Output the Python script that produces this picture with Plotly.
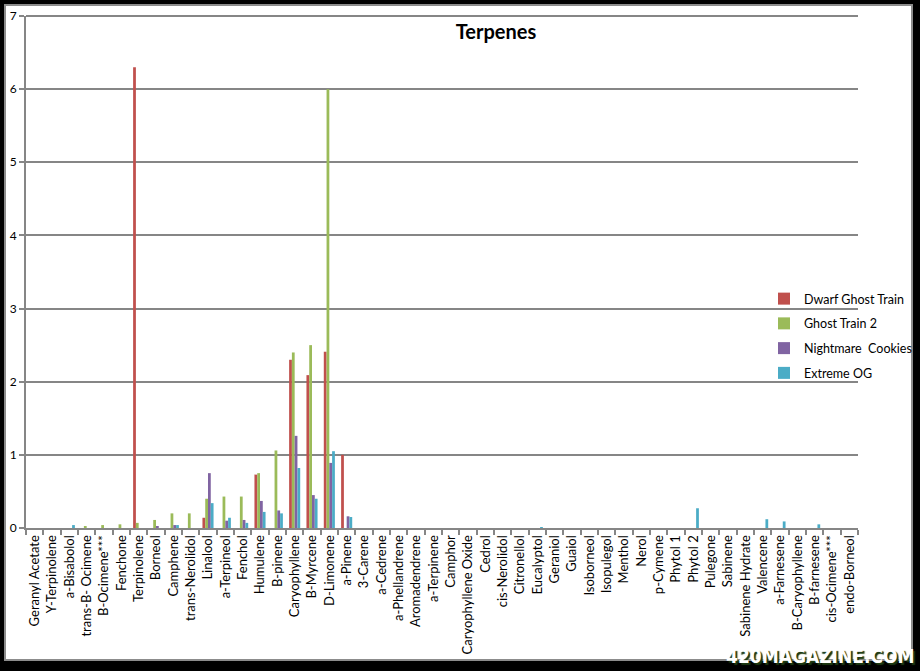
import plotly.graph_objects as go

categories = ["Geranyl Acetate", "Y-Terpinolene", "a-Bisabolol", "trans-B- Ocimene", "B-Ocimene***",
              "Fenchone", "Terpinolene", "Borneol", "Camphene", "trans-Nerolidol", "Linalool",
              "a-Terpineol", "Fenchol", "Humulene", "B-pinene", "Caryophyllene", "B-Myrcene",
              "D-Limonene", "a-Pinene", "3-Carene", "a-Cedrene", "a-Phellandrene", "Aromadendrene",
              "a-Terpinene", "Camphor", "Caryophyllene Oxide", "Cedrol", "cis-Nerolidol",
              "Citronellol", "Eucalyptol", "Geraniol", "Guaiol", "Isoborneol", "Isopulegol",
              "Menthol", "Nerol", "p-Cymene", "Phytol 1", "Phytol 2", "Pulegone", "Sabinene",
              "Sabinene Hydrate", "Valencene", "a-Farnesene", "B-Caryophyllene", "B-farnesene",
              "cis-Ocimene***", "endo-Borneol"]

dwarf_ghost_train = [0, 0, 0, 0, 0, 0, 6.3, 0, 0, 0, 0.14, 0, 0, 0.73, 0, 2.3, 2.09, 2.41, 1.0,
                     0, 0, 0, 0, 0, 0, 0, 0, 0, 0, 0, 0, 0, 0, 0, 0, 0, 0, 0, 0, 0, 0, 0, 0, 0, 0, 0, 0, 0]
ghost_train_2 = [0, 0, 0, 0.02, 0.04, 0.05, 0.07, 0.11, 0.2, 0.2, 0.4, 0.43, 0.43, 0.75, 1.06, 2.4, 2.5, 6.0, 0,
                 0, 0, 0, 0, 0, 0, 0, 0, 0, 0, 0, 0, 0, 0, 0, 0, 0, 0, 0, 0, 0, 0, 0, 0, 0, 0, 0, 0, 0]
nightmare_cookies = [0, 0, 0, 0, 0, 0, 0, 0.02, 0.04, 0, 0.75, 0.1, 0.11, 0.37, 0.24, 1.26, 0.45, 0.89, 0.16,
                     0, 0, 0, 0, 0, 0, 0, 0, 0, 0, 0, 0, 0, 0, 0, 0, 0, 0, 0, 0, 0, 0, 0, 0, 0, 0, 0, 0, 0]
extreme_og = [0, 0, 0.04, 0, 0, 0, 0, 0, 0.04, 0, 0.34, 0.14, 0.07, 0.22, 0.2, 0.82, 0.4, 1.05, 0.15,
              0, 0, 0, 0, 0, 0, 0, 0, 0, 0, 0.01, 0, 0, 0, 0, 0, 0, 0, 0, 0.27, 0, 0, 0, 0.12, 0.09, 0, 0.05, 0, 0]

series = [
    ("Dwarf Ghost Train", dwarf_ghost_train, "#C0504D"),
    ("Ghost Train 2", ghost_train_2, "#9BBB59"),
    ("Nightmare  Cookies", nightmare_cookies, "#8064A2"),
    ("Extreme OG", extreme_og, "#4BACC6"),
]

Y_MAX = 7

FONT = "Lato, 'Open Sans', sans-serif"

fig = go.Figure()
for name, vals, col in series:
    fig.add_trace(go.Bar(x=categories, y=vals, name=name, legendgroup=name,
                         marker=dict(color=col, line=dict(width=0))))

# plot area: x 26..858, y 16..528
L, R, T, B = 26, 858, 16, 528
W, H = R - L, B - T

def px(x):
    return (x - L) / W

def py(y):
    return (B - y) / H

fig.update_layout(
    width=920, height=671,
    margin=dict(l=L, r=920 - R, t=T, b=671 - B, autoexpand=False),
    paper_bgcolor="black",
    plot_bgcolor="rgba(0,0,0,0)",
    font=dict(family=FONT, size=12, color="black"),
    barmode="group", bargap=0.36, bargroupgap=0,
    title=dict(text="<b>Terpenes</b>", x=px(496), xref="paper", xanchor="center",
               y=1 - 32 / 671, yref="container", yanchor="middle",
               font=dict(family=FONT, size=20, color="black")),
    legend=dict(x=px(764), y=py(284), xanchor="left", yanchor="top",
                bgcolor="rgba(0,0,0,0)", font=dict(family=FONT, size=12.5, color="black"),
                tracegroupgap=5.5, itemclick=False, itemwidth=30),
    showlegend=True,
    xaxis=dict(type="category", showgrid=False, ticks="outside", tickson="boundaries",
               ticklen=5, tickwidth=1.5, tickcolor="#868686", tickangle=-90,
               showline=True, linecolor="#868686", linewidth=2,
               tickfont=dict(family=FONT, size=13, color="black")),
    yaxis=dict(range=[0, Y_MAX], dtick=1, tick0=0, showgrid=True, gridcolor="#868686", gridwidth=2,
               zeroline=False, showline=True, linecolor="#868686", linewidth=2,
               ticks="outside", ticklen=5, tickwidth=1.5, tickcolor="#868686",
               tickfont=dict(family=FONT, size=12, color="black")),
    shapes=[dict(type="rect", xref="paper", yref="paper", layer="below",
                 x0=px(5), x1=px(912), y0=py(660), y1=py(5),
                 fillcolor="white", line=dict(color="#8c8c8c", width=2)),
            # top gridline (value Y_MAX sits at the top edge of the plot area)
            dict(type="line", xref="paper", yref="paper", layer="above",
                 x0=0, x1=1, y0=1, y1=1,
                 line=dict(color="#868686", width=2))],
    annotations=[dict(text="<b>420MAGAZINE.COM</b>", xref="paper", yref="paper",
                      x=px(917), y=py(656), xanchor="right", yanchor="middle", showarrow=False,
                      font=dict(family="DejaVu Sans Condensed, DejaVu Sans", size=19, color="white",
                                shadow="2px 2px 1px #1d3a12"))],
)

fig.write_html("out.html")
